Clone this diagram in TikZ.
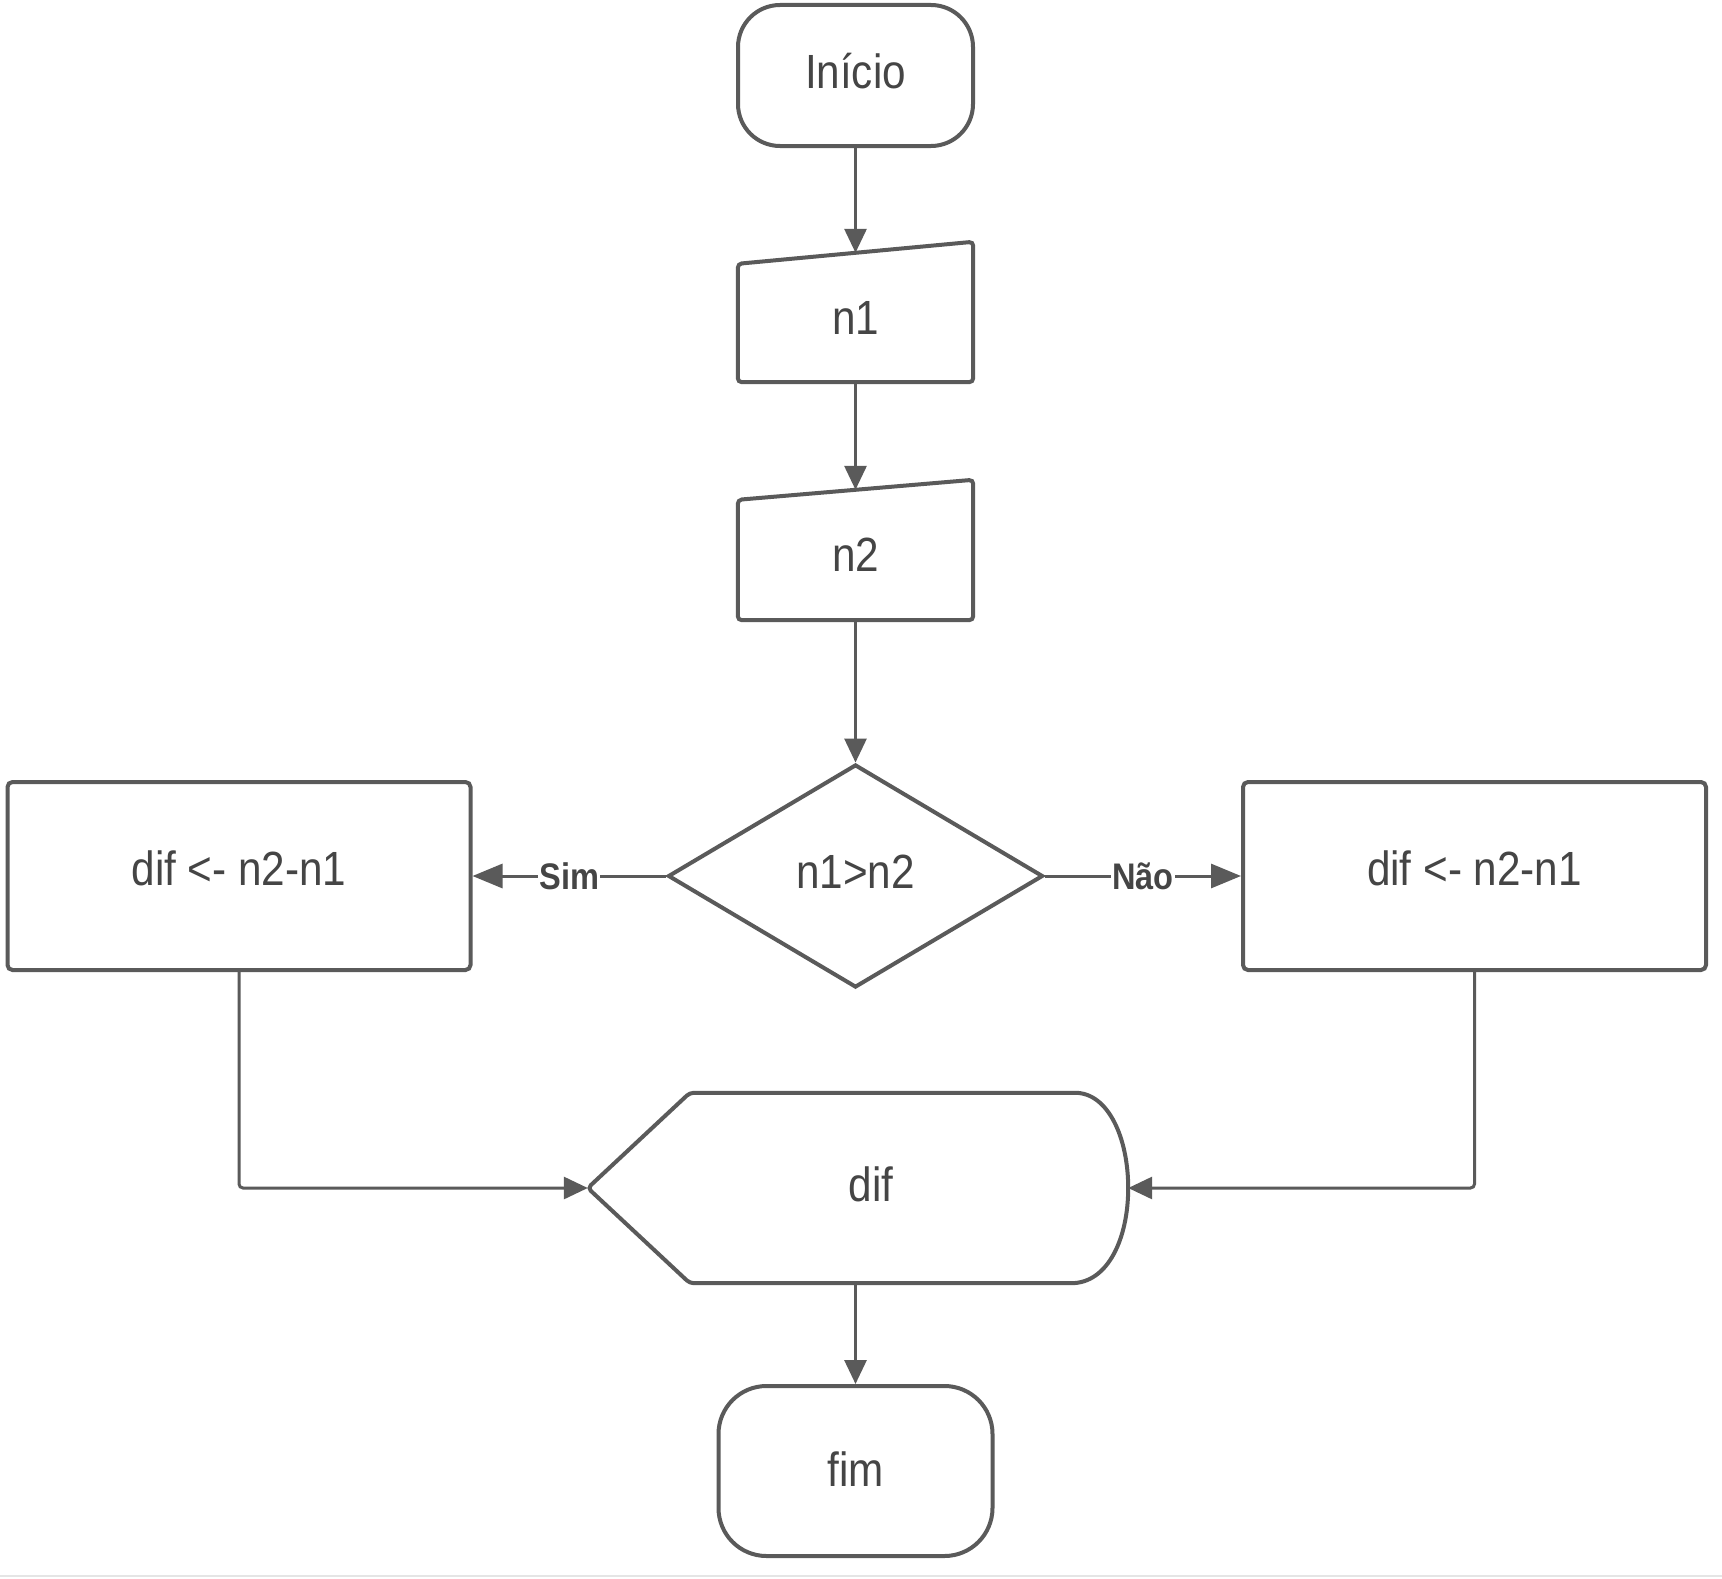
\documentclass[tikz,border=0pt]{standalone}
\usepackage{fontspec}
\setmainfont{Liberation Sans}[FakeStretch=0.88]
\usetikzlibrary{arrows.meta,shapes.geometric,calc}

\definecolor{edge}{HTML}{5A5A5A}
\definecolor{ink}{HTML}{454545}

\begin{document}
\begin{tikzpicture}[x=1pt,y=-1pt,
  txt/.style={font=\fontsize{48}{56}\selectfont,text=ink},
  outline/.style={draw=edge,line width=4pt,fill=white},
  terminal/.style={outline,txt,inner sep=0pt},
  procbox/.style={outline,txt,rounded corners=5pt,inner sep=0pt,
    minimum width=463pt,minimum height=188pt},
  holder/.style={txt,inner sep=0pt},
  decision/.style={outline,txt,diamond,inner sep=0pt,
    minimum width=375pt,minimum height=223pt},
  conn/.style={draw=edge,line width=3pt,-{Triangle[length=24pt,width=22pt]}},
  bigconn/.style={conn,-{Triangle[length=30pt,width=24pt]}},
  branch/.style={font=\fontsize{37}{42}\selectfont\bfseries,text=ink,
    fill=white,inner sep=1pt}
]
\useasboundingbox (0,0) rectangle (1722,1579);
\fill[white] (0,0) rectangle (1722,1579);
\draw[black!10,line width=2pt] (0,1576) -- (1722,1576);

% start / end terminals
\node[terminal,rounded corners=42pt,minimum width=235pt,minimum height=141pt]
  (start) at (855.5,75.5) {};
\node[holder] (startt) at ($(start)+(0,-4)$) {Início};
\node[terminal,rounded corners=48pt,minimum width=274pt,minimum height=170pt]
  (fim) at (855.5,1471) {};
\node[holder] (fimt) at ($(fim)+(0,-2)$) {fim};

% manual input boxes (slanted top edge)
\node[holder,minimum width=235pt,minimum height=129pt] (n1) at (855.5,317.5) {};
\draw[outline,rounded corners=4pt]
  (n1.south west) -- (n1.south east) -- ($(n1.north east)+(0,-11)$)
  -- ($(n1.north west)+(0,11)$) -- cycle;
\node[holder] (n1t) at (n1) {n1};

\node[holder,minimum width=235pt,minimum height=130pt] (n2) at (855.5,555) {};
\draw[outline,rounded corners=4pt]
  (n2.south west) -- (n2.south east) -- ($(n2.north east)+(0,-10)$)
  -- ($(n2.north west)+(0,10)$) -- cycle;
\node[holder] (n2t) at (n2) {n2};

% decision
\node[decision] (dec) at (855.5,876) {};
\node[holder] (dect) at ($(dec)+(0,-4)$) {n1>n2};

% process boxes
\node[procbox] (left) at (239,876) {};
\node[holder] (leftt) at ($(left)+(0,-8)$) {dif <- n2-n1};
\node[procbox] (right) at (1474.5,876) {};
\node[holder] (rightt) at ($(right)+(0,-8)$) {dif <- n2-n1};

% display
\node[holder,minimum width=540pt,minimum height=190pt] (out) at (858,1188) {};
\draw[outline,rounded corners=4pt]
  (out.west) -- ($(out.north west)+(102,0)$) -- ($(out.north east)+(-57,0)$)
  [rounded corners=0pt]
  .. controls ($(out.north east)+(-20,0)$) and ($(out.east)+(0,-50)$) .. (out.east)
  .. controls ($(out.east)+(0,50)$) and ($(out.south east)+(-20,0)$) .. ($(out.south east)+(-57,0)$)
  [rounded corners=4pt]
  -- ($(out.south west)+(102,0)$) -- cycle;
\node[holder] (outt) at ($(out)+(13,-4)$) {dif};

% connectors
\draw[conn] (start.south) -- (n1.north);
\draw[conn] (n1.south) -- (n2.north);
\draw[conn] (n2.south) -- (dec.north);
\draw[bigconn] (dec.west) -- node[branch] (sim) {Sim} (left.east);
\draw[bigconn] (dec.east) -- node[branch] (nao) {Não} (right.west);
\draw[conn,rounded corners=4pt] (left.south) |- (out.west);
\draw[conn,rounded corners=4pt] (right.south) |- (out.east);
\draw[conn] (out.south -| fim.north) -- (fim.north);
\end{tikzpicture}
\end{document}
